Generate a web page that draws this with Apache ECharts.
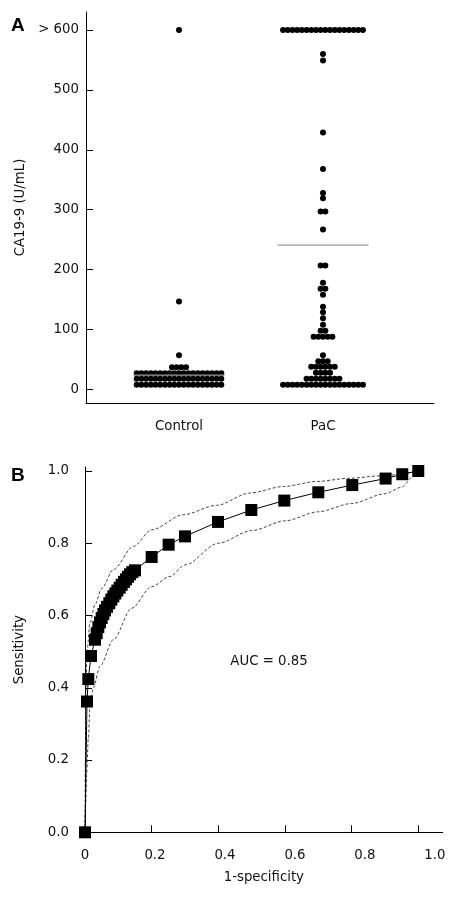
<!DOCTYPE html>
<html><head><meta charset="utf-8">
<script src="https://cdn.jsdelivr.net/npm/echarts@6/dist/echarts.min.js"></script>
<style>html,body{margin:0;padding:0;background:#fff}#c{width:460px;height:899px}</style>
</head><body><div id="c"></div>
<script>
// ---- Panel A data ----
const groups = ['Control', 'PaC'];
const controlValues = [600, 147, 57, 37, 37, 37, 37,
  27,27,27,27,27,27,27,27,27,27,27,27,27,27,27,27,27,27,27,
  18,18,18,18,18,18,18,18,18,18,18,18,18,18,18,18,18,18,18,
  8,8,8,8,8,8,8,8,8,8,8,8,8,8,8,8,8,8,8];
const pacValues = [600,600,600,600,600,600,600,600,600,600,600,600,600,600,600,600,600,600,
  560, 549, 429, 368, 328, 319, 297, 297, 267, 207, 207, 178, 168, 168, 158,
  138, 129, 119, 108, 98, 98, 88, 88, 88, 88, 88, 57, 47, 47, 47,
  38, 38, 38, 38, 38, 38, 28, 28, 28, 28,
  18, 18, 18, 18, 18, 18, 18, 18,
  8,8,8,8,8,8,8,8,8,8,8,8,8,8,8,8,8,8];
const meanValues = [24, 241];
const yTicksA = [0, 100, 200, 300, 400, 500, 600];
const yTickLabelsA = ['0', '100', '200', '300', '400', '500', '> 600'];

// ---- Panel B data ----
const rocX = [0, 0.006, 0.010, 0.018, 0.030, 0.035, 0.040, 0.045, 0.050, 0.055, 0.060, 0.066, 0.073, 0.079, 0.085, 0.091, 0.097, 0.104, 0.110, 0.117, 0.123, 0.129, 0.135, 0.142, 0.150, 0.200, 0.251, 0.300, 0.399, 0.499, 0.598, 0.700, 0.802, 0.902, 0.952, 1.000];
const rocY = [0, 0.362, 0.424, 0.488, 0.533, 0.551, 0.568, 0.581, 0.593, 0.604, 0.614, 0.624, 0.634, 0.644, 0.653, 0.661, 0.669, 0.677, 0.685, 0.693, 0.700, 0.707, 0.714, 0.720, 0.725, 0.762, 0.796, 0.819, 0.859, 0.892, 0.918, 0.941, 0.961, 0.979, 0.991, 1.000];
const upperX = [0, 0.001, 0.003, 0.006, 0.015, 0.03, 0.05, 0.085, 0.145, 0.2, 0.295, 0.395, 0.495, 0.595, 0.695, 0.795, 0.895, 1.0];
const upperY = [0, 0.2, 0.4, 0.5, 0.58, 0.63, 0.675, 0.727, 0.791, 0.837, 0.879, 0.905, 0.939, 0.957, 0.971, 0.98, 0.987, 1.0];
const lowerX = [0, 0.002, 0.005, 0.01, 0.015, 0.025, 0.045, 0.085, 0.14, 0.2, 0.255, 0.3, 0.4, 0.5, 0.6, 0.7, 0.8, 0.9, 0.95, 0.985, 1.0];
const lowerY = [0, 0.08, 0.164, 0.26, 0.348, 0.40, 0.46, 0.533, 0.62, 0.68, 0.708, 0.74, 0.80, 0.835, 0.862, 0.887, 0.91, 0.937, 0.955, 0.985, 1.0];
const xTicksB = [0, 0.2, 0.4, 0.6, 0.8, 1.0];
const xTickLabelsB = ['0', '0.2', '0.4', '0.6', '0.8', '1.0'];
const yTicksB = [0, 0.2, 0.4, 0.6, 0.8, 1.0];
const yTickLabelsB = ['0.0', '0.2', '0.4', '0.6', '0.8', '1.0'];
const aucText = 'AUC = 0.85';

// ---- layout ----
const FONT = 'DejaVu Sans';
const FS = 13.3;
const gridA = {left: 86, top: 12, width: 348, height: 391};
const xMinA = 0.354, xMaxA = 2.771;
const pxPerUnitA = gridA.width / (xMaxA - xMinA);
const dotStep = 4.7 / pxPerUnitA;
const meanHalf = 45.5 / pxPerUnitA;

function swarm(values, center) {
  const counts = {}, idx = {};
  values.forEach(v => counts[v] = (counts[v] || 0) + 1);
  return values.map(v => {
    idx[v] = idx[v] === undefined ? 0 : idx[v] + 1;
    return [center + (idx[v] - (counts[v] - 1) / 2) * dotStep, v];
  });
}
const centers = [1, 2];
const zip = (a, b) => a.map((v, i) => [v, b[i]]);
const lab = {fontFamily: FONT, fontSize: FS, color: '#111'};

const chart = echarts.init(document.getElementById('c'), null, {renderer: 'canvas'});
chart.setOption({
  animation: false,
  backgroundColor: '#fff',
  grid: [
    gridA,
    {left: 85, top: 467, width: 357.7, height: 365.3}
  ],
  xAxis: [
    {gridIndex: 0, type: 'value', min: xMinA, max: xMaxA,
     axisLine: {onZero: false, lineStyle: {color: '#000', width: 1}}, splitLine: {show: false},
     axisTick: {show: false},
     axisLabel: Object.assign({customValues: centers, margin: 17, formatter: v => groups[Math.round(v) - 1]}, lab)},
    {gridIndex: 1, type: 'value', min: 0, max: 1.0733,
     axisLine: {onZero: false, lineStyle: {color: '#000', width: 1}}, splitLine: {show: false},
     axisTick: {inside: true, length: 7, customValues: xTicksB, lineStyle: {color: '#000'}},
     axisLabel: Object.assign({customValues: xTicksB.map(v => v * 1.05), margin: 17,
       formatter: v => xTickLabelsB[Math.round(v / 1.05 / 0.2)]}, lab),
     name: '1-specificity', nameLocation: 'middle', nameGap: 39, nameTextStyle: lab}
  ],
  yAxis: [
    {gridIndex: 0, type: 'value', min: -22.5, max: 630,
     axisLine: {show: true, onZero: false, lineStyle: {color: '#000', width: 1}}, splitLine: {show: false},
     axisTick: {show: true, inside: true, length: 7, customValues: yTicksA, lineStyle: {color: '#000'}},
     axisLabel: Object.assign({customValues: yTicksA, margin: 7,
       formatter: v => yTickLabelsA[yTicksA.indexOf(Math.round(v))]}, lab),
     name: 'CA19-9 (U/mL)', nameLocation: 'middle', nameGap: 59, nameTextStyle: lab},
    {gridIndex: 1, type: 'value', min: 0, max: 1.011,
     axisLine: {show: true, onZero: false, lineStyle: {color: '#000', width: 1}}, splitLine: {show: false},
     axisTick: {show: true, inside: true, length: 7, customValues: yTicksB, lineStyle: {color: '#000'}},
     axisLabel: Object.assign({customValues: yTicksB, margin: 16,
       formatter: v => yTickLabelsB[Math.round(v / 0.2)]}, lab),
     name: 'Sensitivity', nameLocation: 'middle', nameGap: 59, nameTextStyle: lab}
  ],
  series: [
    {type: 'scatter', xAxisIndex: 0, yAxisIndex: 0, symbol: 'circle', symbolSize: 6,
     itemStyle: {color: '#000', opacity: 1}, data: swarm(controlValues, centers[0])},
    {type: 'scatter', xAxisIndex: 0, yAxisIndex: 0, symbol: 'circle', symbolSize: 6,
     itemStyle: {color: '#000', opacity: 1}, data: swarm(pacValues, centers[1])},
    {type: 'line', xAxisIndex: 0, yAxisIndex: 0, symbol: 'none', lineStyle: {color: '#999', width: 1.2},
     data: [[centers[0] - meanHalf, meanValues[0]], [centers[0] + meanHalf, meanValues[0]]], z: 5},
    {type: 'line', xAxisIndex: 0, yAxisIndex: 0, symbol: 'none', lineStyle: {color: '#999', width: 1.2},
     data: [[centers[1] - meanHalf, meanValues[1]], [centers[1] + meanHalf, meanValues[1]]], z: 5},
    {type: 'line', xAxisIndex: 1, yAxisIndex: 1, symbol: 'none', smooth: 0.3, smoothMonotone: 'x',
     lineStyle: {color: '#444', width: 1, type: [3, 2]}, data: zip(upperX, upperY)},
    {type: 'line', xAxisIndex: 1, yAxisIndex: 1, symbol: 'none', smooth: 0.3, smoothMonotone: 'x',
     lineStyle: {color: '#444', width: 1, type: [3, 2]}, data: zip(lowerX, lowerY)},
    {type: 'line', xAxisIndex: 1, yAxisIndex: 1, symbol: 'rect', symbolSize: 12, showAllSymbol: true,
     lineStyle: {color: '#000', width: 1}, itemStyle: {color: '#000', opacity: 1}, data: zip(rocX, rocY), z: 10}
  ],
  graphic: [
    {type: 'text', left: 11, top: 16, style: {text: 'A', font: 'bold 19px "Liberation Sans"', fill: '#000'}},
    {type: 'text', left: 11, top: 466, style: {text: 'B', font: 'bold 19px "Liberation Sans"', fill: '#000'}},
    {type: 'text', x: 269, y: 662, style: {text: aucText, fontFamily: FONT, fontSize: FS, fill: '#111', align: 'center', verticalAlign: 'middle'}}
  ]
});
</script></body></html>
